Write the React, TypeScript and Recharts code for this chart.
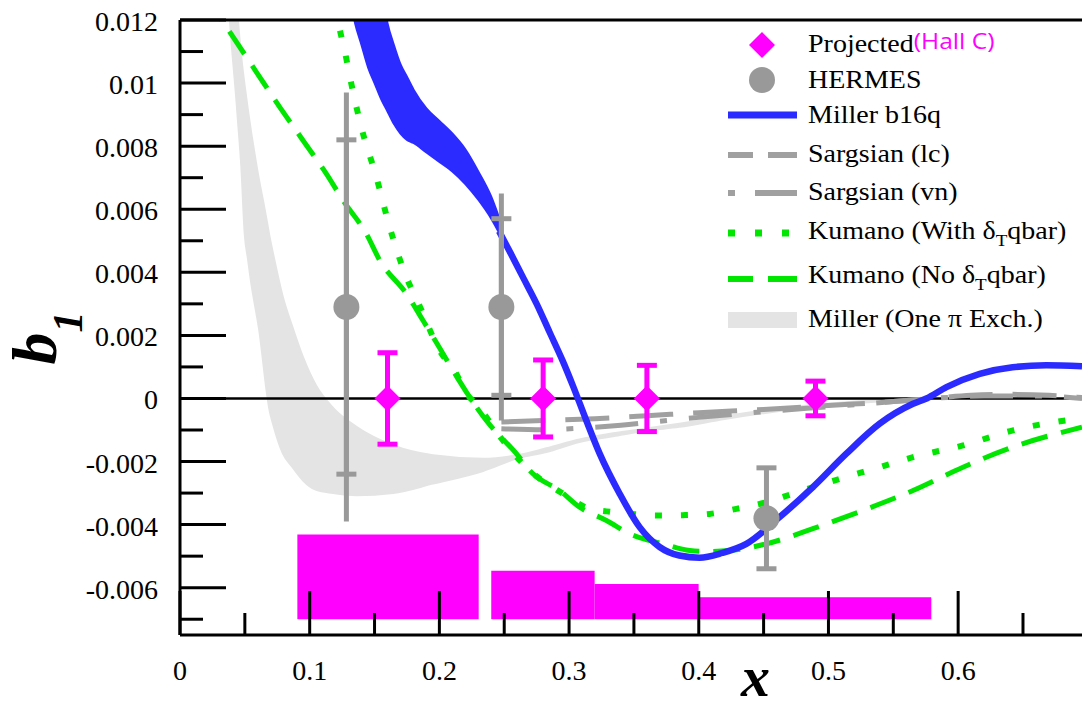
import React from 'react';
import {
  ComposedChart, Line, Area, Scatter, XAxis, YAxis, ErrorBar,
  ReferenceLine, ReferenceArea, Legend, Label,
} from 'recharts';

const SERIF = '"Liberation Serif", "Times New Roman", serif';
const SANS = '"Open Sans", "Noto Sans", sans-serif';

const MAGENTA = '#ff00ff';
const BLUE = '#2b2bff';
const GREEN = '#00e600';
const GRAY = '#999999';
const SGRAY = '#a0a0a0';
const LGRAY = '#e4e4e4';

// ---- axis ticks ----
const xTicks = [0, 0.05, 0.1, 0.15, 0.2, 0.25, 0.3, 0.35, 0.4, 0.45, 0.5, 0.55, 0.6, 0.65];
const yTicks = [-0.007, -0.006, -0.005, -0.004, -0.003, -0.002, -0.001, 0, 0.001, 0.002, 0.003,
  0.004, 0.005, 0.006, 0.007, 0.008, 0.009, 0.01, 0.011, 0.012];

// ---- Projected (Hall C) ----
const projX = [0.16, 0.28, 0.36, 0.49];
const projY = [0, 0, 0, 0];
const projErr = [0.00145, 0.00122, 0.00105, 0.00055];

// systematic bands (Hall C)
const bandX1 = [0.0905, 0.24, 0.3197, 0.3999];
const bandX2 = [0.2303, 0.3197, 0.3999, 0.5793];
const bandTop = [-0.00431, -0.00546, -0.00588, -0.0063];
const bandBottom = -0.0070;

// ---- HERMES ----
const hermesX = [0.1283, 0.2478, 0.4522];
const hermesY = [0.0029, 0.0029, -0.0038];
const hermesStat = [0.0053, 0.0028, 0.0016];
const hermesSys = [0.0068, 0.0036, 0];

// ---- Miller b16q: band + line ----
const millerBandX = [0.128, 0.135, 0.14, 0.145, 0.15, 0.155, 0.16, 0.165, 0.17, 0.175, 0.18, 0.19, 0.2, 0.21, 0.22, 0.23, 0.24, 0.248];
const millerBandLo = [0.0135, 0.0119, 0.0112, 0.0105, 0.01, 0.0095, 0.0091, 0.0087, 0.0084, 0.0082, 0.0081, 0.0078, 0.0075, 0.0072, 0.0068, 0.0063, 0.0057, 0.0051];
const millerBandHi = [0.021, 0.019, 0.0172, 0.0157, 0.0143, 0.0131, 0.0119, 0.0112, 0.0106, 0.0102, 0.0098, 0.0092, 0.0088, 0.0084, 0.0079, 0.0072, 0.0064, 0.0055];
const millerX = [0.246, 0.255, 0.265, 0.275, 0.285, 0.295, 0.303, 0.3133, 0.3236, 0.339, 0.3544, 0.3698, 0.385, 0.4006, 0.418, 0.4367, 0.4624, 0.488, 0.5138, 0.5395, 0.5652, 0.5755, 0.591, 0.6166, 0.642, 0.668, 0.6955];
const millerY = [0.0053, 0.0046, 0.0038, 0.003, 0.0021, 0.0012, 0.0004, -0.0007, -0.00175, -0.00302, -0.00408, -0.00471, -0.00498, -0.00505, -0.0049, -0.00461, -0.00376, -0.00281, -0.00175, -0.0008, -0.00017, 0, 0.00036, 0.00078, 0.00099, 0.00105, 0.00102];

// ---- Sargsian ----
const lcX = [0.2478, 0.28, 0.32, 0.36, 0.4, 0.45, 0.5, 0.55, 0.58, 0.61, 0.64, 0.67, 0.6955];
const lcY = [-0.00075, -0.0007, -0.00064, -0.00055, -0.00045, -0.00035, -0.00022, -0.0001, 0, 0.0001, 0.00013, 0.0001, 0.00003];
const vnX = [0.2478, 0.28, 0.31, 0.34, 0.37, 0.4, 0.45, 0.5, 0.55, 0.58, 0.62, 0.66, 0.6955];
const vnY = [-0.00096, -0.00099, -0.00094, -0.00085, -0.00072, -0.0006, -0.00042, -0.00026, -0.0001, 0, 0.00008, 0.00008, 0];

// ---- Kumano ----
const kWithX = [0.118, 0.1219, 0.127, 0.1308, 0.1398, 0.1514, 0.1617, 0.1745, 0.1835, 0.2002, 0.2131, 0.2195, 0.2311, 0.2465, 0.2696, 0.2953, 0.3159, 0.3288, 0.3478, 0.3673, 0.3878, 0.4084, 0.429, 0.4521, 0.4726, 0.5086, 0.5395, 0.5652, 0.6037, 0.6423, 0.6955];
const kWithY = [0.0133, 0.012, 0.01103, 0.01024, 0.0086, 0.00702, 0.00543, 0.00385, 0.00305, 0.00152, 0.00078, 0.00025, -0.0003, -0.0012, -0.00228, -0.00302, -0.0035, -0.00358, -0.00366, -0.00371, -0.0037, -0.00366, -0.0035, -0.00329, -0.00302, -0.00255, -0.00218, -0.00186, -0.00149, -0.00101, -0.00062];
const kNoX = [0.02, 0.032, 0.0589, 0.0769, 0.0949, 0.1129, 0.1257, 0.1437, 0.154, 0.1746, 0.1874, 0.2028, 0.2105, 0.2234, 0.2362, 0.2594, 0.2722, 0.2928, 0.3082, 0.3288, 0.3467, 0.3724, 0.393, 0.4084, 0.4238, 0.4521, 0.488, 0.5266, 0.5652, 0.6037, 0.6423, 0.6955];
const kNoY = [0.0127, 0.012, 0.01035, 0.00924, 0.00818, 0.00712, 0.00628, 0.00522, 0.00438, 0.00332, 0.00247, 0.00142, 0.00089, 0.00004, -0.0007, -0.00175, -0.00239, -0.00292, -0.00345, -0.00387, -0.00429, -0.00461, -0.00482, -0.00485, -0.00482, -0.00461, -0.00413, -0.00355, -0.00292, -0.00218, -0.00154, -0.00091];

// ---- Miller one pion exchange band ----
const piX = [0.035, 0.0385, 0.0435, 0.0447, 0.0473, 0.0499, 0.0525, 0.055, 0.0585, 0.0615, 0.064, 0.0666, 0.0692, 0.0717, 0.0794, 0.0872, 0.0949, 0.105, 0.118, 0.136, 0.1643, 0.195, 0.2337, 0.26, 0.2825, 0.308, 0.334, 0.36, 0.385, 0.42, 0.462, 0.5, 0.53, 0.56];
const piLo = [0.0145, 0.012, 0.00945, 0.0088, 0.00733, 0.00522, 0.0044, 0.00364, 0.0028, 0.00205, 0.0012, 0.0003, -0.0004, -0.0008, -0.00175, -0.0022, -0.0026, -0.0029, -0.003, -0.00307, -0.003, -0.0027, -0.0023, -0.0019, -0.0017, -0.00138, -0.0012, -0.00102, -0.0009, -0.00065, -0.0004, -0.00022, -0.00012, -0.00003];
const piHi = [0.0175, 0.0155, 0.0128, 0.012, 0.0108, 0.0099, 0.0091, 0.0084, 0.0075, 0.0068, 0.00628, 0.0057, 0.0051, 0.0046, 0.0032, 0.0022, 0.0013, 0.0004, -0.0003, -0.0009, -0.00149, -0.0018, -0.00191, -0.0018, -0.00158, -0.0013, -0.0011, -0.00095, -0.0008, -0.00057, -0.00032, -0.00016, -0.00007, 0];

const zip = (xs: number[], ys: number[]) => xs.map((x, i) => ({ x, y: ys[i] }));
const zipRange = (xs: number[], lo: number[], hi: number[]) => xs.map((x, i) => ({ x, lo: lo[i], hi: hi[i] }));

const projData = projX.map((x, i) => ({ x, y: projY[i], err: projErr[i] }));
const hermesData = hermesX.map((x, i) => ({ x, y: hermesY[i], stat: hermesStat[i], sys: hermesSys[i] }));
const millerBand = zipRange(millerBandX, millerBandLo, millerBandHi);
const millerLine = zip(millerX, millerY);
const lcData = zip(lcX, lcY);
const vnData = zip(vnX, vnY);
const kWithData = zip(kWithX, kWithY);
const kNoData = zip(kNoX, kNoY);
const piBand = zipRange(piX, piLo, piHi);
const rangeKey = (d: any) => [d.lo, d.hi];

const XTick = (props: any) => {
  const { x, y, payload } = props;
  const v = payload.value;
  const major = Math.round(v * 100) % 10 === 0;
  return (
    <g>
      <line x1={x} x2={x} y1={y} y2={y - (major ? 44 : 22)} stroke="#000" strokeWidth={3} />
      {major && (
        <text x={x} y={y + 45} textAnchor="middle" fontFamily={SERIF} fontSize={28} fill="#000">
          {String(v)}
        </text>
      )}
    </g>
  );
};

const YTick = (props: any) => {
  const { x, y, payload } = props;
  const v = payload.value;
  const major = Math.abs(Math.round(v * 1000)) % 2 === 0;
  return (
    <g>
      <line x1={x} x2={x + (major ? 46 : 23)} y1={y} y2={y} stroke="#000" strokeWidth={3} />
      {major && (
        <text x={x - 22} y={y + 11} textAnchor="end" fontFamily={SERIF} fontSize={28} fill="#000">
          {String(v)}
        </text>
      )}
    </g>
  );
};

const XLabel = (props: any) => {
  const vb = props.viewBox;
  return (
    <text x={vb.x + vb.width * 0.638} y={vb.y + 61} textAnchor="middle" fontFamily={SERIF}
      fontSize={58} fontWeight="bold" fontStyle="italic" fill="#000">x</text>
  );
};

const YLabel = (props: any) => {
  const vb = props.viewBox;
  const cx = vb.x + 56;
  const cy = vb.y + 318;
  return (
    <text x={cx} y={cy} transform={`rotate(-90, ${cx}, ${cy})`} textAnchor="middle" fontFamily={SERIF}
      fontWeight="bold" fontStyle="italic" fill="#000" fontSize={64}>
      b<tspan fontSize={42} dy={26}>1</tspan>
    </text>
  );
};

const Diamond = (p: any) => {
  const { cx, cy } = p;
  const r = 13;
  return <polygon points={`${cx},${cy - r} ${cx + r},${cy} ${cx},${cy + r} ${cx - r},${cy}`} fill={MAGENTA} />;
};
const Dot = (p: any) => <circle cx={p.cx} cy={p.cy} r={13} fill={GRAY} />;

const LegendContent = () => {
  const tx = 808;
  const rows = [52, 88, 123, 162, 200, 239, 283, 327];
  const T = (y: number, children: any) => (
    <g transform={`translate(${tx},${y}) scale(1.12,1)`}>
      <text x={0} y={0} fontFamily={SERIF} fontSize={25} fill="#000">{children}</text>
    </g>
  );
  return (
    <svg width={362} height={330} style={{ display: 'block', overflow: 'visible' }}>
      <g transform="translate(-720,-20)">
        <polygon points="762,32 775,45 762,58 749,45" fill={MAGENTA} />
        {T(rows[0], <>Projected<tspan fill={MAGENTA} fontFamily={SANS} fontSize={22} dy={-3}>(Hall C)</tspan></>)}
        <circle cx={762} cy={80} r={13} fill={GRAY} />
        {T(rows[1], 'HERMES')}
        <line x1={728} x2={797} y1={115} y2={115} stroke={BLUE} strokeWidth={7} />
        {T(rows[2], 'Miller b16q')}
        <line x1={728} x2={797} y1={155} y2={155} stroke={SGRAY} strokeWidth={6} strokeDasharray="25 15 30 100" />
        {T(rows[3], 'Sargsian (lc)')}
        <line x1={728} x2={797} y1={193} y2={193} stroke={SGRAY} strokeWidth={6} strokeDasharray="7 20 42 100" />
        {T(rows[4], 'Sargsian (vn)')}
        <line x1={728} x2={790} y1={233} y2={233} stroke={GREEN} strokeWidth={7} strokeDasharray="7 20" />
        {T(rows[5], <>Kumano (With δ<tspan fontSize={17} dy={7}>T</tspan><tspan dy={-7}>qbar)</tspan></>)}
        <line x1={728} x2={797} y1={279} y2={279} stroke={GREEN} strokeWidth={6} strokeDasharray="25 15 30 100" />
        {T(rows[6], <>Kumano (No δ<tspan fontSize={17} dy={7}>T</tspan><tspan dy={-7}>qbar)</tspan></>)}
        <line x1={728} x2={797} y1={320} y2={320} stroke={LGRAY} strokeWidth={16} />
        {T(rows[7], 'Miller (One π Exch.)')}
      </g>
    </svg>
  );
};

export default function App() {
  return (
    <div style={{ position: 'absolute', left: 0, top: 0, width: 1082, height: 711, background: '#fff' }}>
      <ComposedChart width={1082} height={711} margin={{ top: 20, right: 0, bottom: 0, left: 0 }}>
        {bandX1.map((x1, i) => (
          <ReferenceArea key={`band${i}`} x1={x1} x2={bandX2[i]} y1={bandBottom} y2={bandTop[i]}
            fill={MAGENTA} fillOpacity={1} stroke="none" ifOverflow="hidden" />
        ))}
        <Area data={piBand} dataKey={rangeKey} type="monotone" fill={LGRAY} fillOpacity={1}
          stroke={LGRAY} strokeWidth={2} dot={false} activeDot={false} isAnimationActive={false} />
        <ReferenceLine y={0} stroke="#000" strokeWidth={2.5} />
        <Line data={lcData} dataKey="y" type="monotone" stroke={SGRAY} strokeWidth={5}
          strokeDasharray="44 20" dot={false} activeDot={false} isAnimationActive={false} />
        <Line data={vnData} dataKey="y" type="monotone" stroke={SGRAY} strokeWidth={5}
          strokeDasharray="43 22 7 22" dot={false} activeDot={false} isAnimationActive={false} />
        <Line data={kWithData} dataKey="y" type="monotone" stroke={GREEN} strokeWidth={6}
          strokeDasharray="7 19" dot={false} activeDot={false} isAnimationActive={false} />
        <Line data={kNoData} dataKey="y" type="monotone" stroke={GREEN} strokeWidth={5}
          strokeDasharray="27 14" dot={false} activeDot={false} isAnimationActive={false} />
        <Area data={millerBand} dataKey={rangeKey} type="monotone" fill={BLUE} fillOpacity={1}
          stroke={BLUE} strokeWidth={2} dot={false} activeDot={false} isAnimationActive={false} />
        <Line data={millerLine} dataKey="y" type="monotone" stroke={BLUE} strokeWidth={6.5}
          dot={false} activeDot={false} isAnimationActive={false} />
        <Scatter data={hermesData} dataKey="y" shape={Dot} isAnimationActive={false}>
          <ErrorBar dataKey="sys" direction="y" width={0} strokeWidth={5} stroke={GRAY} />
          <ErrorBar dataKey="stat" direction="y" width={10} strokeWidth={5} stroke={GRAY} />
        </Scatter>
        <Scatter data={projData} dataKey="y" shape={Diamond} isAnimationActive={false}>
          <ErrorBar dataKey="err" direction="y" width={10} strokeWidth={5} stroke={MAGENTA} />
        </Scatter>
        <ReferenceLine y={0.012} stroke="#000" strokeWidth={3} />
        <XAxis dataKey="x" type="number" domain={[0, 0.6955]} allowDataOverflow ticks={xTicks}
          interval={0} tickSize={0} tickMargin={0} tickLine={false} tick={XTick} height={76}
          axisLine={{ stroke: '#000', strokeWidth: 3 }}>
          <Label content={XLabel} />
        </XAxis>
        <YAxis dataKey="y" type="number" domain={[-0.0075, 0.012]} allowDataOverflow ticks={yTicks}
          interval={0} tickSize={0} tickMargin={0} tickLine={false} tick={YTick} width={180}
          axisLine={{ stroke: '#000', strokeWidth: 3 }}>
          <Label content={YLabel} />
        </YAxis>
        <Legend content={LegendContent} layout="horizontal" verticalAlign="middle" align="center"
          wrapperStyle={{ position: 'absolute', left: 720, top: 20, width: 362, height: 330 }} />
      </ComposedChart>
    </div>
  );
}
